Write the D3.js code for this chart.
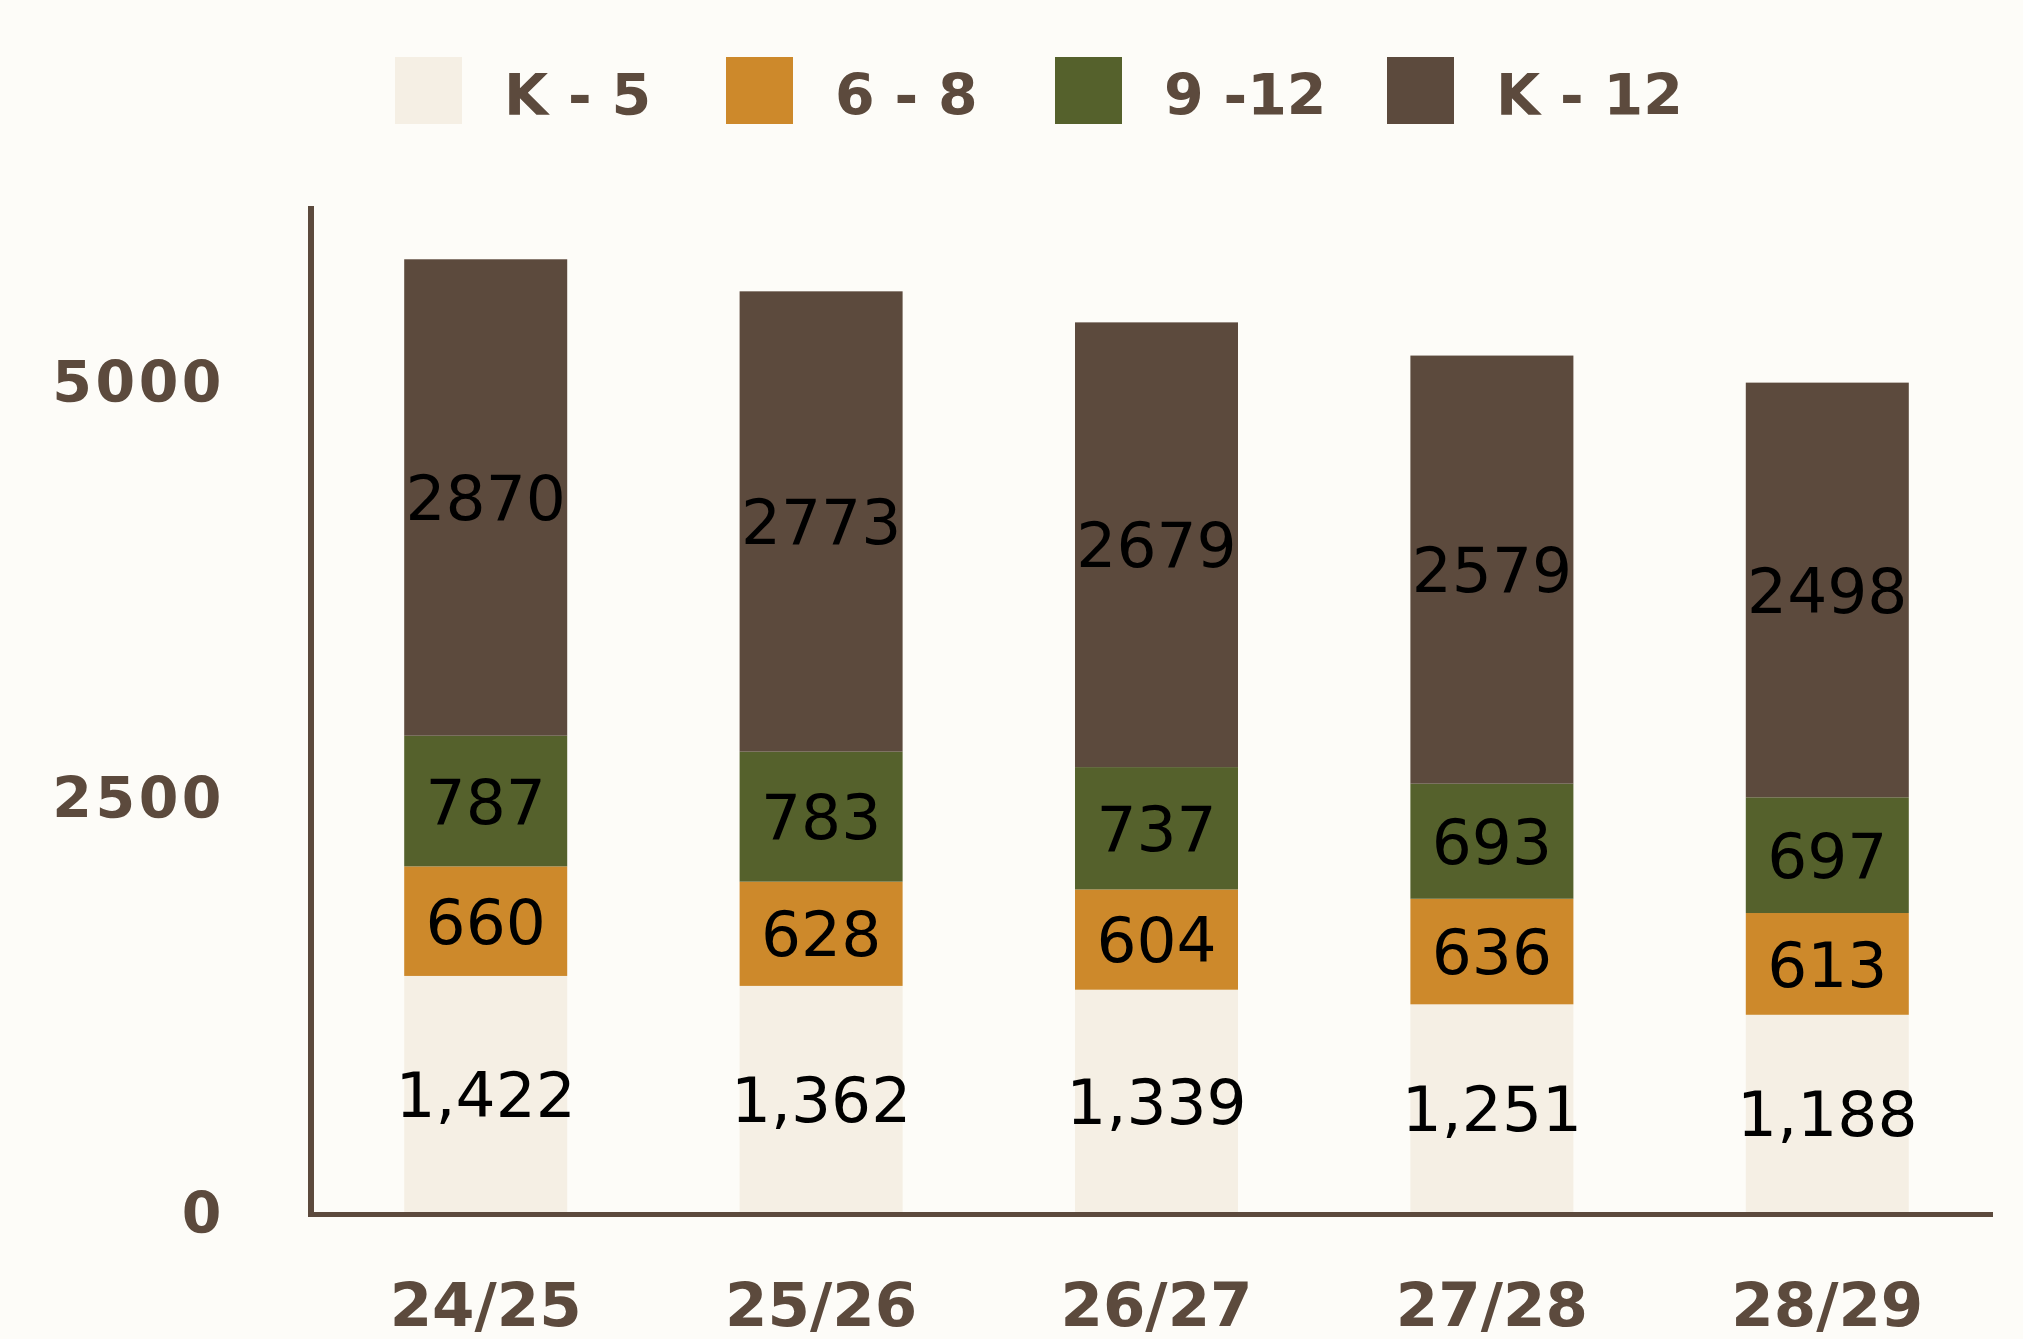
<!DOCTYPE html>
<html>
<head>
<meta charset="utf-8">
<script src="https://cdn.jsdelivr.net/npm/d3@7"></script>
<style>
  html, body { margin: 0; padding: 0; background: #fdfcf8; }
  svg { display: block; }
</style>
</head>
<body>
<svg id="chart" width="2023" height="1339"></svg>
<script>
// data
var years = ["24/25", "25/26", "26/27", "27/28", "28/29"];
var seriesNames = ["K - 5", "6 - 8", "9 -12", "K - 12"];
var k5 = [1422, 1362, 1339, 1251, 1188];
var g68 = [660, 628, 604, 636, 613];
var g912 = [787, 783, 737, 693, 697];
var k12 = [2870, 2773, 2679, 2579, 2498];
var yTicks = [0, 2500, 5000];

var colors = ["#f5efe4", "#cd892b", "#55612c", "#5c4a3d"];
var ink = "#5c4a3d";

var svg = d3.select("#chart");

var rows = years.map(function(y, i) {
  return { year: y, "K - 5": k5[i], "6 - 8": g68[i], "9 -12": g912[i], "K - 12": k12[i] };
});

var stack = d3.stack().keys(seriesNames);
var layers = stack(rows);

var x = d3.scaleBand()
    .domain(years)
    .range([317, 1996])
    .paddingInner(0.514)
    .paddingOuter(0.26);

var y = d3.scaleLinear()
    .domain([0, 6060])
    .range([1212, 206]);

var color = d3.scaleOrdinal().domain(seriesNames).range(colors);

// bars
var layer = svg.selectAll("g.layer")
    .data(layers)
  .enter().append("g")
    .attr("class", "layer")
    .attr("fill", function(d) { return color(d.key); });

layer.selectAll("rect")
    .data(function(d) { return d; })
  .enter().append("rect")
    .attr("x", function(d) { return x(d.data.year); })
    .attr("y", function(d) { return y(d[1]); })
    .attr("width", x.bandwidth())
    .attr("height", function(d) { return y(d[0]) - y(d[1]); });

// value labels
var fmtComma = d3.format(",");
layer.selectAll("text")
    .data(function(d) { return d.map(function(p) { p.key = d.key; return p; }); })
  .enter().append("text")
    .attr("x", function(d) { return x(d.data.year) + x.bandwidth() / 2; })
    .attr("y", function(d) { return (y(d[0]) + y(d[1])) / 2; })
    .attr("dy", "0.36em")
    .attr("text-anchor", "middle")
    .style("font-family", "'DejaVu Sans', sans-serif")
    .style("font-size", "63px")
    .style("fill", "#000")
    .text(function(d) {
      var v = d[1] - d[0];
      return d.key === "K - 5" ? fmtComma(v) : String(v);
    });

// axes lines
svg.append("line")
    .attr("x1", 311).attr("x2", 311)
    .attr("y1", y.range()[1]).attr("y2", 1217)
    .attr("stroke", ink).attr("stroke-width", 6);

svg.append("line")
    .attr("x1", 314).attr("x2", 1993)
    .attr("y1", 1214.5).attr("y2", 1214.5)
    .attr("stroke", ink).attr("stroke-width", 5);

// y tick labels
svg.selectAll("text.ytick")
    .data(yTicks)
  .enter().append("text")
    .attr("class", "ytick")
    .attr("x", 225)
    .attr("y", function(d) { return y(d); })
    .attr("dy", "0.36em")
    .attr("text-anchor", "end")
    .style("font-family", "'DejaVu Sans', sans-serif")
    .style("font-weight", "bold")
    .style("font-size", "57px")
    .style("letter-spacing", "3.5px")
    .style("fill", ink)
    .text(function(d) { return d; });

// x tick labels
svg.selectAll("text.xtick")
    .data(years)
  .enter().append("text")
    .attr("class", "xtick")
    .attr("x", function(d) { return x(d) + x.bandwidth() / 2; })
    .attr("y", 1326)
    .attr("text-anchor", "middle")
    .style("font-family", "'DejaVu Sans', sans-serif")
    .style("font-weight", "bold")
    .style("font-size", "61px")
    .style("fill", ink)
    .text(function(d) { return d; });

// legend
var legendX = [395, 726, 1055, 1387];
var legend = svg.selectAll("g.legend")
    .data(seriesNames)
  .enter().append("g")
    .attr("class", "legend")
    .attr("transform", function(d, i) { return "translate(" + legendX[i] + ",57)"; });

legend.append("rect")
    .attr("width", 67).attr("height", 67)
    .attr("fill", function(d) { return color(d); });

legend.append("text")
    .attr("x", 109)
    .attr("y", 58)
    .style("font-family", "'DejaVu Sans', sans-serif")
    .style("font-weight", "bold")
    .style("font-size", "57px")
    .style("fill", ink)
    .text(function(d) { return d; });
</script>
</body>
</html>
